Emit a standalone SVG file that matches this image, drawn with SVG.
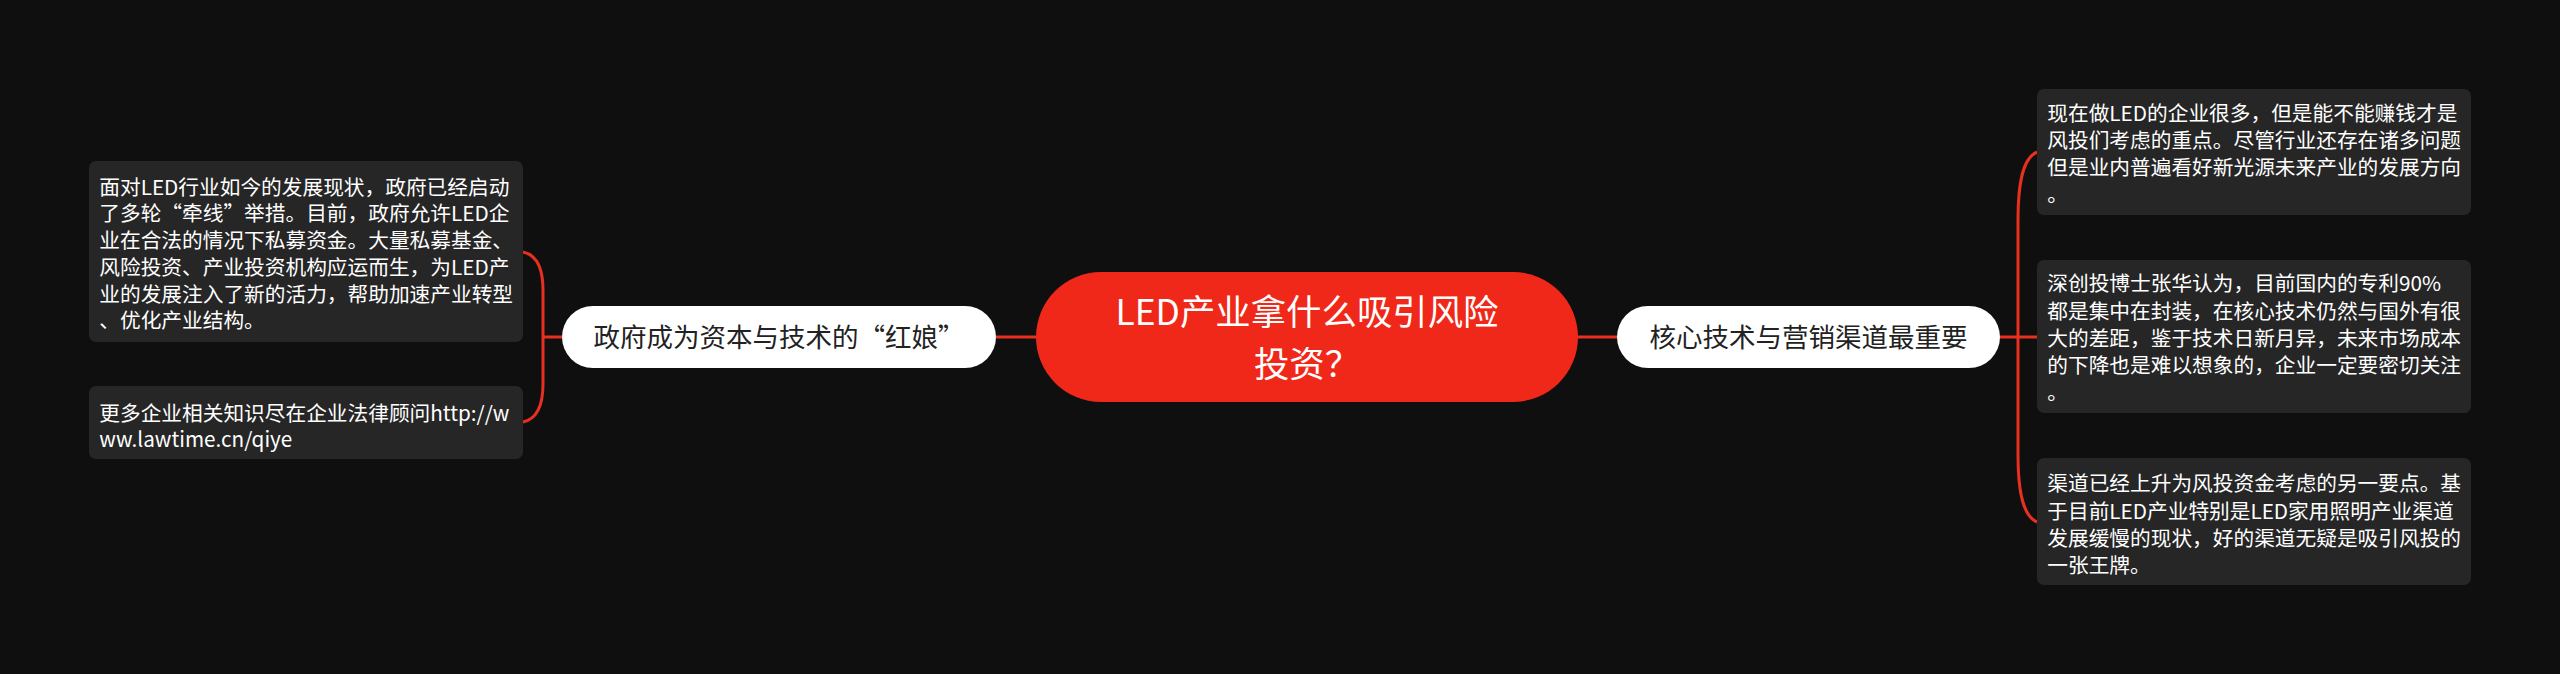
<svg xmlns="http://www.w3.org/2000/svg" width="2560" height="674" viewBox="0 0 2560 674">
<style>
.bg{fill:#0f0f0f}
.box{fill:#262626}
.bt{font-family:"Noto Sans CJK SC","Noto Sans",sans-serif;font-size:20.7px;fill:#ffffff}
.pill{fill:#ffffff}
.pt{font-family:"Noto Sans CJK SC","Noto Sans",sans-serif;font-size:26.5px;fill:#222222;text-anchor:middle}
.root{fill:#f0281a}
.rt{font-family:"Noto Sans CJK SC","Noto Sans",sans-serif;font-size:35.4px;fill:#ffffff;text-anchor:middle}
.conn{fill:none;stroke:#e8301f;stroke-width:3}
</style>
<rect class="bg" x="0" y="0" width="2560" height="674"/>
<g id="connectors">
<path class="conn" d="M996 337 L1036 337"/>
<path class="conn" d="M1578 337 L1617 337"/>
<path class="conn" d="M562 337 L543 337"/>
<path class="conn" d="M543 337 L543 290 C543 268 537 255 523 252"/>
<path class="conn" d="M543 337 L543 384 C543 406 537 419 523 422"/>
<path class="conn" d="M2000 337 L2037 337"/>
<path class="conn" d="M2018 337 L2018 220 C2018 182 2023 158 2037 152"/>
<path class="conn" d="M2018 337 L2018 455 C2018 492 2023 516 2037 522"/>
</g>
<g id="root">
<rect class="root" x="1036" y="272" width="542" height="130" rx="65"/>
<text class="rt" x="1307" y="325.2">LED产业拿什么吸引风险</text>
<text class="rt" x="1307" y="376.8">投资？</text>
</g>
<g id="branch-left">
<rect class="pill" x="562" y="306" width="434" height="62" rx="31"/>
<text class="pt" x="779" y="347">政府成为资本与技术的“红娘”</text>
</g>
<g id="branch-right">
<rect class="pill" x="1617" y="306" width="383" height="62" rx="31"/>
<text class="pt" x="1808.5" y="347">核心技术与营销渠道最重要</text>
</g>
<g id="leaf-left-1">
<rect class="box" x="89" y="161" width="434" height="181" rx="7"/>
<text class="bt"><tspan x="99.3" y="194.7">面对LED行业如今的发展现状，政府已经启动</tspan><tspan x="99.3" y="221.4">了多轮“牵线”举措。目前，政府允许LED企</tspan><tspan x="99.3" y="248.1">业在合法的情况下私募资金。大量私募基金、</tspan><tspan x="99.3" y="274.8">风险投资、产业投资机构应运而生，为LED产</tspan><tspan x="99.3" y="301.5">业的发展注入了新的活力，帮助加速产业转型</tspan><tspan x="99.3" y="328.2">、优化产业结构。</tspan></text>
</g>
<g id="leaf-left-2">
<rect class="box" x="89" y="386" width="434" height="73" rx="7"/>
<text class="bt"><tspan x="99.3" y="420.7">更多企业相关知识尽在企业法律顾问http://w</tspan><tspan x="99.3" y="447.4">ww.lawtime.cn/qiye</tspan></text>
</g>
<g id="leaf-right-1">
<rect class="box" x="2037" y="89" width="434" height="126" rx="7"/>
<text class="bt"><tspan x="2047.3" y="121.3">现在做LED的企业很多，但是能不能赚钱才是</tspan><tspan x="2047.3" y="148.3">风投们考虑的重点。尽管行业还存在诸多问题</tspan><tspan x="2047.3" y="175.3">但是业内普遍看好新光源未来产业的发展方向</tspan><tspan x="2047.3" y="202.3">。</tspan></text>
</g>
<g id="leaf-right-2">
<rect class="box" x="2037" y="260" width="434" height="153" rx="7"/>
<text class="bt"><tspan x="2047.3" y="291.3">深创投博士张华认为，目前国内的专利90%</tspan><tspan x="2047.3" y="318.5">都是集中在封装，在核心技术仍然与国外有很</tspan><tspan x="2047.3" y="345.7">大的差距，鉴于技术日新月异，未来市场成本</tspan><tspan x="2047.3" y="372.9">的下降也是难以想象的，企业一定要密切关注</tspan><tspan x="2047.3" y="400.1">。</tspan></text>
</g>
<g id="leaf-right-3">
<rect class="box" x="2037" y="458" width="434" height="127" rx="7"/>
<text class="bt"><tspan x="2047.3" y="491.3">渠道已经上升为风投资金考虑的另一要点。基</tspan><tspan x="2047.3" y="518.5">于目前LED产业特别是LED家用照明产业渠道</tspan><tspan x="2047.3" y="545.7">发展缓慢的现状，好的渠道无疑是吸引风投的</tspan><tspan x="2047.3" y="572.9">一张王牌。</tspan></text>
</g>
</svg>
